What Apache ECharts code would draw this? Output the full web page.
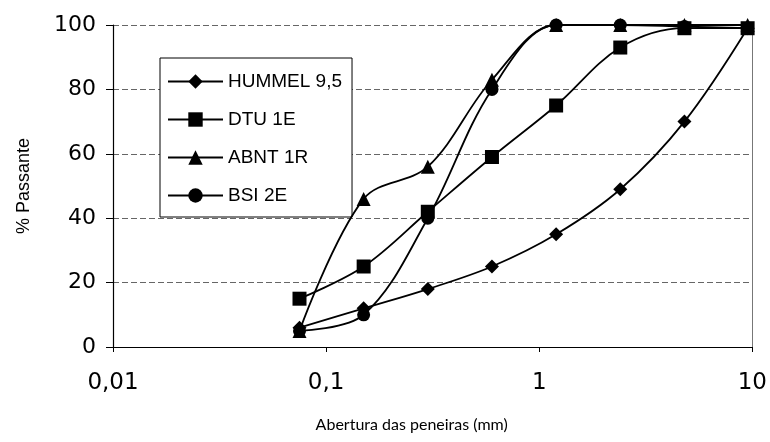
<!DOCTYPE html>
<html>
<head>
<meta charset="utf-8">
<script src="https://cdn.jsdelivr.net/npm/echarts@6/dist/echarts.min.js"></script>
<style>html,body{margin:0;padding:0;background:#fff}#c{width:770px;height:442px}</style>
</head>
<body>
<div id="c"></div>
<script>
const sieves = [0.075, 0.15, 0.3, 0.6, 1.2, 2.4, 4.8, 9.5];
const hummel = [6, 12, 18, 25, 35, 49, 70, 99];
const dtu = [15, 25, 42, 59, 75, 93, 99, 99];
const abnt = [5, 46, 56, 83, 100, 100, 100, 100];
const bsi = [5, 10, 40, 80, 100, 100, 99.5, 99];
const seriesNames = ['HUMMEL 9,5', 'DTU 1E', 'ABNT 1R', 'BSI 2E'];
const seriesSymbols = ['diamond', 'rect', 'triangle', 'circle'];
const yTicks = [0, 20, 40, 60, 80, 100];

const allData = [hummel, dtu, abnt, bsi];
const chart = echarts.init(document.getElementById('c'));
chart.setOption({
  animation: false,
  backgroundColor: '#fff',
  grid: { left: 113, right: 17, top: 25, bottom: 95, containLabel: false },
  legend: {
    orient: 'vertical',
    left: 160, top: 58,
    backgroundColor: '#fff',
    borderColor: '#000', borderWidth: 1,
    padding: [14, 10, 12, 7],
    itemWidth: 55, itemHeight: 18, itemGap: 19,
    textStyle: { fontFamily: 'Liberation Sans, Arial', fontSize: 19, color: '#000' },
    data: seriesNames
  },
  xAxis: {
    type: 'log', logBase: 10, min: 0.01, max: 10,
    name: 'Abertura das peneiras (mm)',
    nameLocation: 'middle', nameGap: 70,
    nameTextStyle: { fontFamily: 'Lato', fontSize: 16, color: '#000', padding: [0, 42, 0, 0] },
    axisLine: { show: true, lineStyle: { color: '#000', width: 1.2 } },
    axisTick: { show: true, inside: false, length: 5, lineStyle: { color: '#000' } },
    minorTick: { show: false },
    splitLine: { show: false },
    axisLabel: {
      margin: 25, fontFamily: 'DejaVu Sans', fontSize: 23, color: '#000',
      formatter: v => String(v).replace('.', ',')
    }
  },
  yAxis: [{
    type: 'value', min: 0, max: 100, interval: 20,
    name: '% Passante',
    nameLocation: 'middle', nameGap: 80, nameRotate: 90,
    nameTextStyle: { fontFamily: 'Liberation Sans, Arial', fontSize: 18, color: '#000' },
    axisLine: { show: true, lineStyle: { color: '#000', width: 1.2 } },
    axisTick: { show: true, length: 7, lineStyle: { color: '#000' } },
    splitLine: { show: true, lineStyle: { color: '#666', type: [6, 3], width: 1 } },
    axisLabel: { margin: 17, fontFamily: 'DejaVu Sans', fontSize: 22, color: '#000',
      formatter: v => yTicks.includes(v) ? String(v) : '' }
  }, {
    type: 'value', min: 0, max: 100, interval: 20, position: 'right',
    axisLine: { show: true, lineStyle: { color: '#777', width: 1 } },
    axisTick: { show: false }, axisLabel: { show: false }, splitLine: { show: false }
  }],
  series: seriesNames.map((n, i) => ({
    name: n, type: 'line', smooth: 0.35,
    symbol: seriesSymbols[i],
    symbolSize: seriesSymbols[i] === 'circle' ? 13 : 14,
    itemStyle: { color: '#000' },
    lineStyle: { color: '#000', width: 1.8 },
    data: sieves.map((s, j) => [s, allData[i][j]]),
    z: 3 + i
  }))
});
</script>
</body>
</html>
